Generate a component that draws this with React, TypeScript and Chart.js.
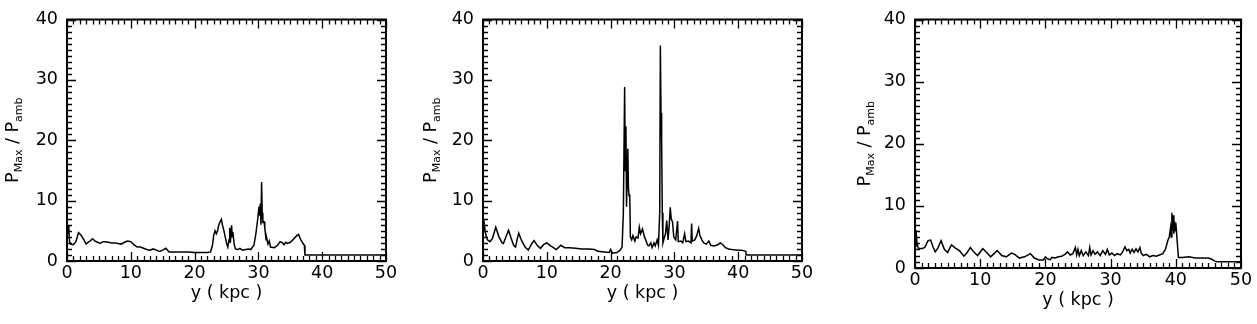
import React, { useEffect, useRef } from "react";
import { Chart, registerables } from "chart.js";

Chart.register(...registerables);

// ---------- data ----------
const xTickValues = [0, 10, 20, 30, 40, 50];
const yTickValues = [0, 10, 20, 30, 40];
const xTitle = "y ( kpc )";
const yTitleMain1 = "P";
const yTitleSub1 = "Max";
const yTitleSep = " / ";
const yTitleMain2 = "P";
const yTitleSub2 = "amb";

const xs1 = [0, 0.1, 0.2, 0.3, 0.4, 0.6, 1.0, 1.4, 1.8, 2.2, 2.6, 3.0, 3.3, 3.6, 4.0, 4.4, 4.8, 5.2, 5.6, 6.0, 6.5, 7.0, 7.5, 8.0, 8.5, 9.0, 9.5, 10.0, 10.5, 11.0, 11.5, 12.0, 12.5, 13.0, 13.5, 14.0, 14.5, 15.0, 15.5, 16.0, 17, 18, 19, 20, 21, 22, 22.5, 22.8, 23.0, 23.2, 23.4, 23.6, 23.8, 24.0, 24.2, 24.4, 24.6, 24.8, 25.0, 25.2, 25.4, 25.5, 25.6, 25.8, 25.9, 26.0, 26.2, 26.4, 26.8, 27.1, 27.5, 28.0, 28.5, 28.8, 29.0, 29.3, 29.6, 29.9, 30.1, 30.2, 30.3, 30.4, 30.5, 30.6, 30.7, 30.9, 31.0, 31.2, 31.3, 31.5, 31.7, 31.9, 32.5, 33.0, 33.4, 33.8, 34.0, 34.3, 34.6, 35.0, 35.5, 36.0, 36.3, 36.6, 37.0, 37.2, 37.3, 50];
const ys1 = [5.5, 4.5, 5.9, 4.8, 3.2, 2.8, 2.7, 3.2, 4.7, 4.3, 3.6, 2.8, 3.1, 3.3, 3.7, 3.3, 3.1, 2.9, 3.2, 3.2, 3.1, 3.0, 3.0, 2.9, 2.8, 3.1, 3.3, 3.2, 2.7, 2.3, 2.3, 2.1, 1.9, 1.8, 2.0, 1.8, 1.6, 1.8, 2.1, 1.5, 1.5, 1.5, 1.5, 1.4, 1.4, 1.4, 1.5, 2.6, 4.3, 5.0, 4.5, 5.0, 6.0, 6.5, 6.9, 5.8, 5.0, 4.0, 3.0, 2.3, 3.5, 5.5, 3.0, 5.9, 4.0, 4.8, 2.8, 2.0, 1.9, 2.1, 1.8, 1.9, 2.0, 1.9, 2.2, 2.6, 4.5, 7.0, 9.0, 7.5, 9.5, 6.0, 13.1, 8.0, 6.4, 6.5, 5.5, 3.5, 3.8, 2.8, 3.3, 2.3, 2.2, 2.6, 3.2, 3.0, 2.7, 3.1, 2.9, 3.1, 3.6, 4.2, 4.4, 3.6, 2.9, 2.6, 1.0, 1.0];

const xs2 = [0, 0.2, 0.4, 0.7, 1.1, 1.5, 2.0, 2.5, 3.0, 3.2, 3.6, 4.0, 4.4, 4.8, 5.1, 5.4, 5.6, 6.0, 6.6, 7.1, 7.6, 8.0, 8.5, 9.0, 9.5, 10.0, 10.6, 11.5, 12.2, 12.8, 13.5, 14.5, 15.5, 16.5, 17.5, 18.0, 19.0, 19.8, 20.0, 20.3, 21.0, 21.5, 21.8, 22.0, 22.2, 22.3, 22.4, 22.5, 22.7, 22.8, 22.9, 23.0, 23.1, 23.3, 23.5, 23.8, 24.0, 24.3, 24.5, 24.7, 25.0, 25.3, 25.5, 25.8, 26.0, 26.3, 26.5, 26.8, 27.0, 27.3, 27.5, 27.7, 27.8, 27.9, 28.0, 28.1, 28.2, 28.4, 28.6, 28.8, 29.0, 29.2, 29.35, 29.5, 29.7, 29.9, 30.2, 30.5, 30.6, 31.0, 31.3, 31.6, 31.8, 32.2, 32.6, 32.7, 32.8, 33.2, 33.5, 33.8, 34.0, 34.3, 34.6, 35.0, 35.4, 35.7, 36.2, 36.8, 37.2, 37.6, 38.0, 38.5, 39.0, 40.0, 40.5, 41.2, 41.25, 50];
const ys2 = [4.5, 6.2, 4.5, 3.5, 3.2, 3.8, 5.6, 4.0, 3.0, 2.9, 4.0, 5.1, 3.8, 2.6, 2.3, 3.8, 4.6, 3.5, 2.3, 1.8, 2.8, 3.4, 2.6, 2.1, 2.7, 3.0, 2.5, 1.9, 2.6, 2.2, 2.2, 2.1, 2.0, 2.0, 1.9, 1.6, 1.5, 1.4, 1.9, 1.3, 1.4, 1.8, 2.3, 8.0, 28.8, 15.0, 22.3, 9.0, 18.6, 12.0, 10.8, 11.0, 4.0, 3.5, 4.2, 3.3, 4.0, 3.8, 5.6, 4.5, 5.3, 4.0, 3.5, 2.6, 2.5, 3.0, 2.2, 3.0, 2.5, 3.5, 2.6, 8.0, 35.7, 24.5, 20.0, 8.0, 3.0, 3.8, 4.5, 6.7, 3.5, 6.0, 8.9, 7.0, 6.5, 4.0, 3.5, 6.6, 3.2, 3.3, 3.0, 4.5, 3.2, 3.3, 3.0, 6.2, 3.3, 3.5, 4.2, 5.4, 4.2, 3.5, 3.0, 2.8, 3.3, 2.6, 2.5, 2.7, 3.0, 2.7, 2.2, 2.0, 1.9, 1.8, 1.8, 1.6, 1.0, 1.0];

const xs3 = [0, 0.15, 0.3, 0.5, 1.0, 1.5, 2.0, 2.4, 2.8, 3.1, 3.5, 4.0, 4.5, 5.0, 5.6, 6.2, 6.8, 7.5, 8.0, 8.5, 9.0, 9.6, 10.4, 11.0, 11.6, 12.6, 13.3, 14.0, 14.8, 15.3, 16.0, 16.8, 17.7, 18.3, 19.0, 19.7, 20.0, 20.3, 20.7, 21.0, 21.5, 22.0, 22.5, 23.0, 23.4, 23.8, 24.2, 24.6, 24.8, 25.0, 25.2, 25.5, 25.8, 26.2, 26.6, 26.8, 27.0, 27.3, 27.6, 28.0, 28.4, 28.8, 29.2, 29.5, 29.8, 30.2, 30.6, 31.0, 31.5, 31.8, 32.2, 32.5, 32.8, 33.0, 33.3, 33.6, 33.9, 34.2, 34.5, 34.7, 35.0, 35.5, 36.0, 36.5, 37.0, 37.5, 38.0, 38.4, 38.8, 39.0, 39.2, 39.3, 39.4, 39.5, 39.6, 39.7, 39.8, 39.9, 40.0, 40.2, 40.4, 41.0, 42.0, 43.0, 44.0, 45.0, 45.5, 46.0, 46.3, 50];
const ys3 = [3.5, 6.1, 4.0, 3.2, 3.1, 3.3, 4.4, 4.5, 3.3, 2.6, 3.2, 4.4, 3.0, 2.5, 3.7, 3.2, 2.8, 1.9, 2.5, 3.3, 2.6, 2.0, 3.1, 2.5, 1.8, 2.8, 2.0, 1.8, 2.4, 2.2, 1.6, 1.8, 2.3, 1.6, 1.3, 1.3, 1.8, 1.5, 1.3, 1.7, 1.6, 1.8, 1.9, 2.2, 2.6, 2.1, 2.3, 3.3, 2.1, 3.0, 2.0, 2.8, 2.0, 2.6, 2.0, 3.3, 2.1, 2.8, 2.2, 2.6, 2.0, 2.8, 2.2, 3.0, 2.1, 2.4, 2.0, 2.3, 2.1, 2.5, 3.4, 2.8, 3.0, 2.4, 3.0, 2.5, 3.1, 2.6, 3.3, 2.4, 2.0, 2.2, 1.8, 2.0, 1.9, 2.1, 2.3, 3.0, 4.5, 5.0, 6.5, 5.0, 8.9, 6.0, 8.5, 5.5, 7.5, 6.0, 7.3, 4.5, 1.7, 1.7, 1.8, 1.6, 1.6, 1.6, 1.4, 1.1, 1.0, 1.0];

// ---------- layout / style ----------
const FONT = "'DejaVu Sans', 'Liberation Sans', sans-serif";
const TICK_FONT_SIZE = 17.5;
const SUB_FONT_SIZE = 11;
const CANVAS_H = 324;
const Y_AXIS_W = 40;
const X_AXIS_H = 50;

type Panel = {
  xs: number[];
  ys: number[];
  left: number;
  width: number;
  area: { l: number; r: number; t: number; b: number };
  titleX: number;
};

const PANELS: Panel[] = [
  { xs: xs1, ys: ys1, left: 0, width: 420, area: { l: 67, r: 386, t: 17, b: 261 }, titleX: 18 },
  { xs: xs2, ys: ys2, left: 420, width: 420, area: { l: 63, r: 382, t: 17, b: 261 }, titleX: 16 },
  { xs: xs3, ys: ys3, left: 840, width: 417, area: { l: 75, r: 401, t: 19, b: 268 }, titleX: 30 },
];

const framePlugin = (titleX: number) => ({
  id: "frameTicks",
  afterDatasetsDraw(chart: any) {
    const { ctx, chartArea, scales } = chart;
    const { left, right, top, bottom } = chartArea;
    const xs = scales.x;
    const ys = scales.y;
    ctx.save();
    ctx.strokeStyle = "#000";
    ctx.lineWidth = 1.3;
    ctx.beginPath();
    for (let v = 0; v <= 50; v += 1) {
      const px = Math.round(xs.getPixelForValue(v)) + 0.5;
      const len = v % 10 === 0 ? 9 : 5;
      ctx.moveTo(px, bottom);
      ctx.lineTo(px, bottom - len);
      ctx.moveTo(px, top);
      ctx.lineTo(px, top + len);
    }
    for (let v = 0; v <= 40; v += 1) {
      const py = Math.round(ys.getPixelForValue(v)) + 0.5;
      const len = v % 10 === 0 ? 9 : 5;
      ctx.moveTo(left, py);
      ctx.lineTo(left + len, py);
      ctx.moveTo(right, py);
      ctx.lineTo(right - len, py);
    }
    ctx.stroke();
    ctx.lineWidth = 2;
    ctx.strokeRect(left, top, right - left, bottom - top);

    // rotated y title with subscripts
    const mainFont = `${TICK_FONT_SIZE}px ${FONT}`;
    const subFont = `${SUB_FONT_SIZE}px ${FONT}`;
    ctx.fillStyle = "#000";
    ctx.textBaseline = "alphabetic";
    ctx.textAlign = "left";
    ctx.font = mainFont;
    const wP1 = ctx.measureText(yTitleMain1).width;
    const wSep = ctx.measureText(yTitleSep).width;
    const wP2 = ctx.measureText(yTitleMain2).width;
    ctx.font = subFont;
    const wS1 = ctx.measureText(yTitleSub1).width;
    const wS2 = ctx.measureText(yTitleSub2).width;
    const total = wP1 + wS1 + wSep + wP2 + wS2;
    ctx.translate(titleX, (top + bottom) / 2);
    ctx.rotate(-Math.PI / 2);
    let x = -total / 2;
    const subDy = 4;
    ctx.font = mainFont;
    ctx.fillText(yTitleMain1, x, 0);
    x += wP1;
    ctx.font = subFont;
    ctx.fillText(yTitleSub1, x, subDy);
    x += wS1;
    ctx.font = mainFont;
    ctx.fillText(yTitleSep, x, 0);
    x += wSep;
    ctx.fillText(yTitleMain2, x, 0);
    x += wP2;
    ctx.font = subFont;
    ctx.fillText(yTitleSub2, x, subDy);
    ctx.restore();
  },
});

function PanelChart({ panel }: { panel: Panel }) {
  const ref = useRef<HTMLCanvasElement | null>(null);
  useEffect(() => {
    if (!ref.current) return;
    const { xs, ys, width, area, titleX } = panel;
    const points = xs.map((x, i) => ({ x, y: ys[i] }));
    const chart = new Chart(ref.current, {
      type: "line",
      data: {
        datasets: [
          {
            data: points,
            borderColor: "#000",
            borderWidth: 1.5,
            pointRadius: 0,
            tension: 0,
            fill: false,
          },
        ],
      },
      options: {
        responsive: false,
        animation: false,
        events: [],
        layout: {
          padding: {
            left: area.l - Y_AXIS_W,
            right: width - area.r,
            top: area.t,
            bottom: CANVAS_H - area.b - X_AXIS_H,
          },
        },
        plugins: {
          legend: { display: false },
          tooltip: { enabled: false },
          title: { display: false },
        },
        scales: {
          x: {
            type: "linear",
            min: 0,
            max: 50,
            grid: { display: false, drawTicks: false },
            border: { display: false },
            afterBuildTicks: (s: any) => {
              s.ticks = xTickValues.map((v) => ({ value: v }));
            },
            afterFit: (s: any) => {
              s.height = X_AXIS_H;
            },
            ticks: {
              color: "#000",
              padding: 2,
              maxRotation: 0,
              autoSkip: false,
              font: { family: FONT, size: TICK_FONT_SIZE },
            },
            title: {
              display: true,
              text: xTitle,
              color: "#000",
              font: { family: FONT, size: TICK_FONT_SIZE },
              padding: { top: 0, bottom: 7 },
            },
          },
          y: {
            type: "linear",
            min: 0,
            max: 40,
            grid: { display: false, drawTicks: false },
            border: { display: false },
            afterBuildTicks: (s: any) => {
              s.ticks = yTickValues.map((v) => ({ value: v }));
            },
            afterFit: (s: any) => {
              s.width = Y_AXIS_W;
            },
            ticks: {
              color: "#000",
              padding: 9,
              autoSkip: false,
              font: { family: FONT, size: TICK_FONT_SIZE },
            },
          },
        },
      },
      plugins: [framePlugin(titleX)],
    });
    return () => chart.destroy();
  }, [panel]);
  return (
    <canvas
      ref={ref}
      width={panel.width}
      height={CANVAS_H}
      style={{ position: "absolute", left: panel.left, top: 0, width: panel.width, height: CANVAS_H }}
    />
  );
}

export default function App() {
  return (
    <div
      style={{
        position: "absolute",
        left: 0,
        top: 0,
        width: 1257,
        height: CANVAS_H,
        background: "#fff",
        overflow: "hidden",
      }}
    >
      {PANELS.map((p, i) => (
        <PanelChart key={i} panel={p} />
      ))}
    </div>
  );
}
